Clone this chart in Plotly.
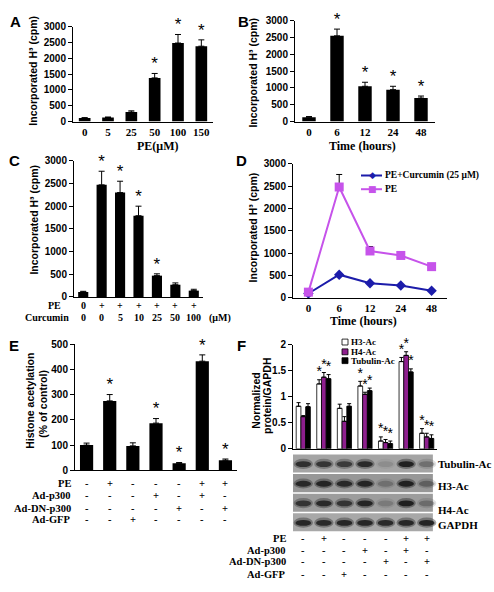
import plotly.graph_objects as go

W, H = 494, 592
def px(x): return x / W
def py(y): return 1 - y / H

SERIF = "Liberation Serif"
SANS = "Liberation Sans"

# ---------------- data ----------------
a_doses = ["0", "5", "25", "50", "100", "150"]
a_vals = [110, 130, 300, 1380, 2480, 2380]
a_err = [15, 15, 40, 140, 270, 200]
a_sig = [False, False, False, True, True, True]

b_times = ["0", "6", "12", "24", "48"]
b_vals = [130, 2550, 1050, 950, 700]
b_err = [20, 200, 120, 100, 60]
b_sig = [False, True, True, True, True]

c_pe = ["0", "+", "+", "+", "+", "+", "+"]
c_curcumin = ["0", "0", "5", "10", "25", "50", "100"]
c_vals = [110, 2470, 2300, 1790, 470, 270, 140]
c_err = [15, 300, 250, 210, 40, 40, 30]
c_sig = [False, True, True, True, True, False, False]

d_times = ["0", "6", "12", "24", "48"]
d_pe = [130, 2480, 1050, 950, 700]
d_pe_err = [0, 280, 100, 80, 0]
d_curc = [100, 520, 330, 280, 160]
d_names = ["PE+Curcumin (25 μM)", "PE"]

e_vals = [100, 275, 97, 187, 28, 432, 40]
e_err = [8, 25, 12, 18, 3, 25, 5]
e_sig = [False, True, False, True, True, True, True]

cond_names = ["PE", "Ad-p300", "Ad-DN-p300", "Ad-GFP"]
cond_pe = ["-", "+", "-", "-", "-", "+", "+"]
cond_p300 = ["-", "-", "-", "+", "-", "+", "-"]
cond_dn = ["-", "-", "-", "-", "+", "-", "+"]
cond_gfp = ["-", "-", "+", "-", "-", "-", "-"]

f_names = ["H3-Ac", "H4-Ac", "Tubulin-Ac"]
f_h3 = [0.82, 1.25, 0.78, 1.21, 0.15, 1.68, 0.30]
f_h3_err = [0.07, 0.08, 0.08, 0.09, 0.08, 0.08, 0.09]
f_h4 = [0.62, 1.38, 0.53, 1.05, 0.12, 1.80, 0.23]
f_h4_err = [0.02, 0.09, 0.09, 0.04, 0.06, 0.07, 0.07]
f_tub = [0.81, 1.35, 0.82, 1.12, 0.10, 1.48, 0.20]
f_tub_err = [0.06, 0.08, 0.05, 0.05, 0.05, 0.06, 0.07]
f_sig = [False, True, False, True, True, True, True]

blot_names = ["Tubulin-Ac", "H3-Ac", "H4-Ac", "GAPDH"]
blot_tub = [0.80, 0.75, 0.70, 0.85, 0.12, 0.95, 0.30]
blot_h3 = [0.85, 0.90, 0.85, 0.90, 0.25, 0.95, 0.35]
blot_h4 = [0.75, 0.85, 0.75, 0.90, 0.20, 0.95, 0.30]
blot_gapdh = [0.90, 0.88, 0.90, 0.90, 0.88, 0.90, 0.92]

# ---------------- figure ----------------
fig = go.Figure()
annotations = []
shapes = []

BLACK = "black"
PURPLE_D = "#c653ea"
BLUE_D = "#1c1caa"
PURPLE_F = "#8e1f8e"


def ytick_font():
    return dict(family=SANS, size=10, color=BLACK, weight="bold")


def xtick_font():
    return dict(family=SERIF, size=11, color=BLACK, weight="bold")


def yaxis(top, bot, rng, dtick, anchor):
    return dict(domain=[py(bot), py(top)], range=rng, dtick=dtick, anchor=anchor,
                showline=True, linecolor=BLACK, linewidth=1, ticks="outside",
                ticklen=4, tickwidth=1, tickcolor=BLACK, showgrid=False,
                zeroline=False, tickfont=ytick_font(), fixedrange=True)


def xaxis(left, right, n, anchor, labels=None):
    d = dict(domain=[px(left), px(right)], range=[-0.5, n - 0.5], anchor=anchor,
             showline=True, linecolor=BLACK, linewidth=1, ticks="", showgrid=False,
             zeroline=False, fixedrange=True)
    if labels is None:
        d["showticklabels"] = False
    else:
        d.update(tickmode="array", tickvals=list(range(n)), ticktext=labels,
                 tickfont=xtick_font())
    return d


def bar_panel(xa, ya, vals, err, sig, width, star_size=17):
    n = len(vals)
    fig.add_trace(go.Bar(x=list(range(n)), y=vals, width=width, xaxis=xa, yaxis=ya,
                         marker=dict(color=BLACK, line=dict(width=0)),
                         error_y=dict(type="data", array=err, arrayminus=[0] * n,
                                      symmetric=False, color=BLACK, thickness=1, width=3),
                         showlegend=False, hoverinfo="skip"))
    sx = [i for i in range(n) if sig[i]]
    sy = [vals[i] + err[i] for i in range(n) if sig[i]]
    fig.add_trace(go.Scatter(x=sx, y=sy, mode="text", text=["*"] * len(sx),
                             textposition="top center", xaxis=xa, yaxis=ya, cliponaxis=False,
                             textfont=dict(family=SANS, size=star_size, color=BLACK),
                             showlegend=False, hoverinfo="skip"))


def text(x, y, s, size=11, family=SERIF, bold=True, xanchor="center", yanchor="middle",
         angle=0, xref="paper", color=BLACK):
    annotations.append(dict(x=x if xref != "paper" else px(x), y=py(y), xref=xref, yref="paper",
                            text=s, showarrow=False, xanchor=xanchor, yanchor=yanchor,
                            textangle=angle, borderpad=0,
                            font=dict(family=family, size=size, color=color,
                                      weight="bold" if bold else "normal")))


# Panel A
bar_panel("x", "y", a_vals, a_err, a_sig, 0.5)
# Panel B
bar_panel("x2", "y2", b_vals, b_err, b_sig, 0.48)
# Panel C
bar_panel("x3", "y3", c_vals, c_err, c_sig, 0.55)
# Panel E
bar_panel("x5", "y5", e_vals, e_err, e_sig, 0.57)

# Panel D lines
fig.add_trace(go.Scatter(x=list(range(len(d_times))), y=d_curc, mode="lines+markers",
                         xaxis="x4", yaxis="y4", name=d_names[0], cliponaxis=False,
                         line=dict(color=BLUE_D, width=2),
                         marker=dict(symbol="diamond", size=8, color=BLUE_D),
                         showlegend=False, hoverinfo="skip"))
fig.add_trace(go.Scatter(x=list(range(len(d_times))), y=d_pe, mode="lines+markers",
                         xaxis="x4", yaxis="y4", name=d_names[1], cliponaxis=False,
                         line=dict(color=PURPLE_D, width=2),
                         marker=dict(symbol="square", size=9, color=PURPLE_D),
                         error_y=dict(type="data", array=d_pe_err, arrayminus=[0] * len(d_pe),
                                      symmetric=False, color=BLACK, thickness=1, width=3),
                         showlegend=False, hoverinfo="skip"))

# Panel F grouped bars
f_w = 0.23
f_series = [(f_h3, f_h3_err, "white"), (f_h4, f_h4_err, PURPLE_F), (f_tub, f_tub_err, BLACK)]
for k, (vals, err, col) in enumerate(f_series):
    n = len(vals)
    off = (k - 1) * f_w
    fig.add_trace(go.Bar(x=list(range(n)), y=vals, width=f_w, offset=off - f_w / 2,
                         xaxis="x6", yaxis="y6", name=f_names[k],
                         marker=dict(color=col, line=dict(color=BLACK, width=0.8)),
                         error_y=dict(type="data", array=err, arrayminus=[0] * n,
                                      symmetric=False, color=BLACK, thickness=1, width=2),
                         showlegend=False, hoverinfo="skip"))
    sx = [i + off for i in range(n) if f_sig[i]]
    sy = [vals[i] + err[i] for i in range(n) if f_sig[i]]
    fig.add_trace(go.Scatter(x=sx, y=sy, mode="text", text=["*"] * len(sx),
                             textposition="top center", xaxis="x6", yaxis="y6", cliponaxis=False,
                             textfont=dict(family=SANS, size=14, color=BLACK),
                             showlegend=False, hoverinfo="skip"))

# Blots (shapes on hidden axis x7/y7)
blot_bg = ["#a4a4a4", "#979797", "#9c9c9c", "#a8a8a8"]
blot_data = [blot_tub, blot_h3, blot_h4, blot_gapdh]
for r, lanes in enumerate(blot_data):
    shapes.append(dict(type="rect", xref="x7", yref="y7", x0=-0.74, x1=6.3,
                       y0=r - 0.46, y1=r + 0.46, fillcolor=blot_bg[r],
                       line=dict(width=0), layer="above"))
    for i, inten in enumerate(lanes):
        shapes.append(dict(type="circle", xref="x7", yref="y7", x0=i - 0.47, x1=i + 0.47,
                           y0=r - 0.24, y1=r + 0.28,
                           fillcolor=f"rgba(40,40,40,{inten*0.45:.2f})",
                           line=dict(width=0), layer="above"))
        shapes.append(dict(type="circle", xref="x7", yref="y7", x0=i - 0.38, x1=i + 0.38,
                           y0=r - 0.12, y1=r + 0.18,
                           fillcolor=f"rgba(20,20,20,{inten*0.9:.2f})",
                           line=dict(width=0), layer="above"))
blot_label_y = [467, 490, 514, 530]
for r, name in enumerate(blot_names):
    text(437, blot_label_y[r], name, size=11, xanchor="left")

# condition rows
def cond_block(xa, label_right, rows_y, size=10.5):
    rows = [cond_pe, cond_p300, cond_dn, cond_gfp]
    for r, name in enumerate(cond_names):
        text(label_right, rows_y[r], name, size=size, xanchor="right")
        for i, s in enumerate(rows[r]):
            text(i, rows_y[r], s, size=size, xref=xa)

cond_block("x5", 72, [487, 500, 513, 524])
cond_block("x6", 287, [544, 556, 567, 580])

# Panel C rows
text(62, 306, "PE", size=10, xanchor="right")
text(70, 318, "Curcumin", size=10, xanchor="right")
for i in range(len(c_pe)):
    text(i, 306, c_pe[i], size=10, xref="x3")
    text(i, 318, c_curcumin[i], size=10, xref="x3")
text(208, 318, "(μM)", size=10, xanchor="left")

# axis titles
YT = "Incorporated H³ (cpm)"
text(33, 66, YT, size=10.5, family=SANS, angle=-90)
text(253, 68, YT, size=10.5, family=SANS, angle=-90)
text(34, 218, YT, size=10.5, family=SANS, angle=-90)
text(253, 226, YT, size=10.5, family=SANS, angle=-90)
text(30, 403, "Histone acetylation", size=10.5, family=SANS, angle=-90)
text(43, 406, "(% of control)", size=10.5, family=SANS, angle=-90)
text(256, 403, "Normalized", size=10.5, family=SANS, angle=-90)
text(267, 398, "protein/GAPDH", size=10.5, family=SANS, angle=-90)
text(157, 143, "PE(μM)", size=12)
text(362, 143, "Time (hours)", size=12)
text(363, 322, "Time (hours)", size=12)

# panel letters
for lab, x, y in [("A", 15, 16), ("B", 243, 16), ("C", 14, 158), ("D", 241, 158),
                  ("E", 14, 347), ("F", 241, 347)]:
    text(x, y, lab, size=15, family=SANS)

# legend D (manual)
leg_d_y = [173, 187]
leg_d_col = [BLUE_D, PURPLE_D]
leg_d_sym = ["◆", "■"]
for k in range(2):
    shapes.append(dict(type="line", xref="paper", yref="paper", x0=px(361), x1=px(382),
                       y0=py(leg_d_y[k]), y1=py(leg_d_y[k]),
                       line=dict(color=leg_d_col[k], width=2)))
    text(372, leg_d_y[k], leg_d_sym[k], size=9, family="DejaVu Sans", color=leg_d_col[k])
    text(384, leg_d_y[k], d_names[k], size=9.5, xanchor="left")

# legend F (manual)
leg_f_y = [343, 353, 362]
leg_f_col = ["white", PURPLE_F, BLACK]
for k in range(3):
    shapes.append(dict(type="rect", xref="paper", yref="paper", x0=px(342), x1=px(348),
                       y0=py(leg_f_y[k] + 3), y1=py(leg_f_y[k] - 3),
                       fillcolor=leg_f_col[k], line=dict(color=BLACK, width=0.8)))
    text(350, leg_f_y[k], f_names[k], size=9, xanchor="left")

layout = dict(
    width=W, height=H, margin=dict(l=0, r=0, t=0, b=0),
    paper_bgcolor="white", plot_bgcolor="white", showlegend=False,
    barmode="overlay",
    xaxis=xaxis(73, 213, len(a_vals), "y", a_doses),
    yaxis=yaxis(21, 118, [0, 3000], 500, "x"),
    xaxis2=xaxis(295, 435, len(b_vals), "y2", b_times),
    yaxis2=yaxis(15, 118, [0, 3000], 500, "x2"),
    xaxis3=xaxis(74, 203, len(c_vals), "y3"),
    yaxis3=yaxis(158, 297, [0, 3000], 500, "x3"),
    xaxis4=xaxis(293, 447, len(d_pe), "y4", d_times),
    yaxis4=yaxis(161, 298, [0, 3000], 500, "x4"),
    xaxis5=xaxis(75, 237, len(e_vals), "y5"),
    yaxis5=yaxis(345, 474, [0, 500], 100, "x5"),
    xaxis6=xaxis(293, 437, len(f_h3), "y6"),
    yaxis6=yaxis(346, 452, [0, 2], 0.5, "x6"),
    xaxis7=dict(domain=[px(293), px(437)], range=[-0.5, 6.5], visible=False, anchor="y7",
                fixedrange=True),
    yaxis7=dict(domain=[py(537), py(457)], range=[3.5, -0.5], visible=False, anchor="x7",
                fixedrange=True),
    annotations=annotations,
    shapes=shapes,
)
fig.update_layout(**layout)
fig.write_html("out.html", config={"displayModeBar": False},
               post_script="document.body.style.margin='0px';document.body.style.overflow='hidden';")
